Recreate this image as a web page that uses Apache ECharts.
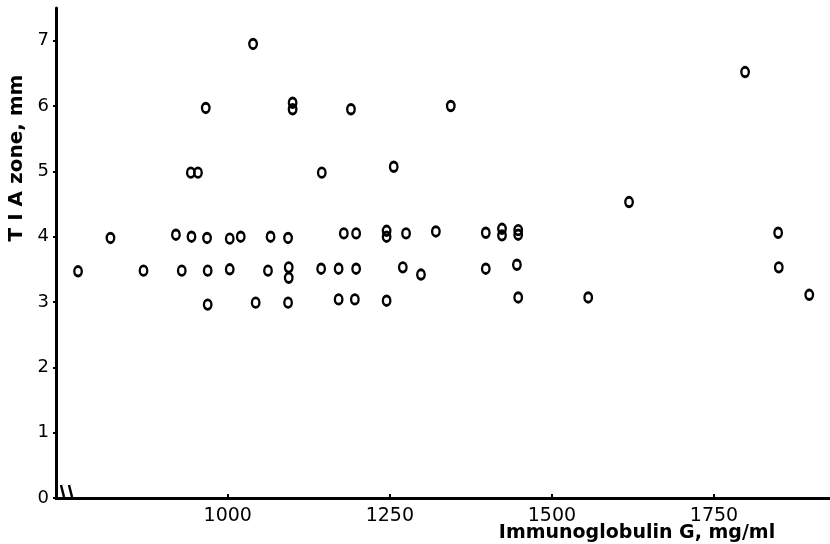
<!DOCTYPE html>
<html>
<head>
<meta charset="utf-8">
<title>TIA zone vs Immunoglobulin G</title>
<script src="https://cdn.jsdelivr.net/npm/echarts@6/dist/echarts.min.js"></script>
<style>
  html, body { margin: 0; padding: 0; background: #fff; }
  #chart { width: 830px; height: 544px; }
</style>
</head>
<body>
<div id="chart"></div>
<script>
// values
var igG = [
  819, 920, 944, 968, 1003, 1020, 1066, 1093, 1179, 1198, 1245, 1245, 1275, 1321, 1398, 1423, 1423, 1448, 1448, 1849,
  769, 870, 929, 969, 1003, 1062, 1094, 1094, 1144, 1171, 1198, 1270, 1298, 1398, 1446, 1850,
  969, 1043, 1093, 1171, 1196, 1245, 1448, 1556, 1897,
  1039, 966, 1100, 1100, 1190, 1344, 943, 954, 1145, 1256, 1619, 1798
];
var tiaZone = [
  3.98, 4.03, 4.0, 3.98, 3.97, 4.0, 4.0, 3.98, 4.05, 4.05, 4.09, 4.0, 4.05, 4.08, 4.06, 4.12, 4.02, 4.1, 4.03, 4.06,
  3.47, 3.48, 3.48, 3.48, 3.5, 3.48, 3.53, 3.37, 3.51, 3.51, 3.51, 3.53, 3.42, 3.51, 3.57, 3.53,
  2.96, 2.99, 2.99, 3.04, 3.04, 3.02, 3.07, 3.07, 3.11,
  6.95, 5.97, 6.05, 5.95, 5.95, 6.0, 4.98, 4.98, 4.98, 5.07, 4.53, 6.52
];
var xTicks = [1000, 1250, 1500, 1750];
var yTicks = [0, 1, 2, 3, 4, 5, 6, 7];

var points = igG.map(function (x, i) { return [x, tiaZone[i]]; });

var chart = echarts.init(document.getElementById('chart'));
var font = 'DejaVu Sans';

chart.setOption({
  animation: false,
  backgroundColor: '#fff',
  grid: { left: 56, right: 0, top: 8, bottom: 46, containLabel: false },
  xAxis: {
    type: 'value',
    min: 735,
    max: 1929,
    splitLine: { show: false },
    axisLine: { onZero: false, lineStyle: { color: '#000', width: 3 } },
    axisTick: { show: true, inside: true, length: 4, customValues: xTicks, lineStyle: { color: '#000', width: 2 } },
    axisLabel: {
      customValues: xTicks, color: '#000', fontFamily: font, fontSize: 19, margin: 9,
      formatter: function (v) { return String(v); }
    }
  },
  yAxis: {
    type: 'value',
    min: 0,
    max: 7.5,
    splitLine: { show: false },
    axisLine: { onZero: false, lineStyle: { color: '#000', width: 3 } },
    axisTick: { show: true, length: 3, customValues: yTicks, lineStyle: { color: '#000', width: 2 } },
    axisLabel: { customValues: yTicks, color: '#000', fontFamily: font, fontSize: 18, margin: 7 }
  },
  series: [{
    type: 'scatter',
    data: points,
    symbol: 'circle',
    symbolSize: [7.5, 9.5],
    itemStyle: { color: 'rgba(0,0,0,0)', borderColor: '#000', borderWidth: 2.6, opacity: 1 }
  }],
  graphic: [
    {
      type: 'text',
      x: 17, y: 158,
      rotation: Math.PI / 2,
      style: { text: 'T I A zone, mm', fill: '#000', font: 'bold 20px "DejaVu Sans"', align: 'center', verticalAlign: 'middle' }
    },
    {
      type: 'text',
      x: 637, y: 533,
      style: { text: 'Immunoglobulin G, mg/ml', fill: '#000', font: 'bold 19px "DejaVu Sans"', align: 'center', verticalAlign: 'middle' }
    },
    // axis break marks near the origin
    { type: 'line', shape: { x1: 61, y1: 485, x2: 64, y2: 497 }, style: { stroke: '#000', lineWidth: 2.5 } },
    { type: 'line', shape: { x1: 69, y1: 485, x2: 72, y2: 497 }, style: { stroke: '#000', lineWidth: 2.5 } }
  ]
});
</script>
</body>
</html>
